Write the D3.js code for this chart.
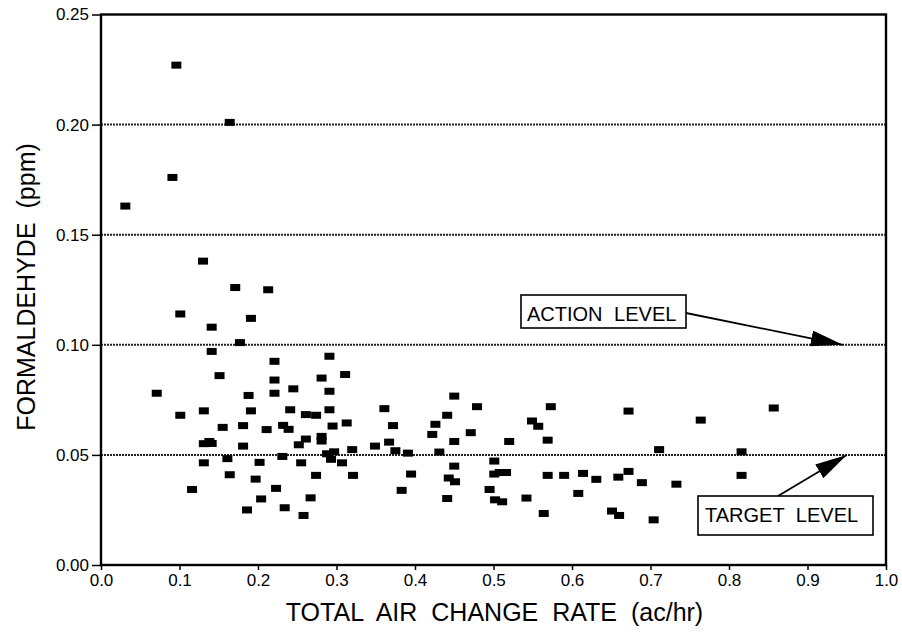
<!DOCTYPE html>
<html>
<head>
<meta charset="utf-8">
<script src="https://cdn.jsdelivr.net/npm/d3@7"></script>
<style>
  html, body { margin: 0; padding: 0; background: #fff; }
  svg { display: block; font-family: "Liberation Sans", Arial, Helvetica, sans-serif; }
</style>
</head>
<body>
<svg id="chart" width="902" height="635"></svg>
<script>
// ---- data ----
const airChange = [
  0.031, 0.091, 0.096, 0.164, 0.130, 0.171, 0.213, 0.101, 0.191, 0.141,
  0.177, 0.141, 0.221, 0.151, 0.221, 0.071, 0.221, 0.245, 0.188, 0.131,
  0.191, 0.241, 0.101, 0.155, 0.181, 0.211, 0.232, 0.239, 0.131, 0.138,
  0.141, 0.181, 0.252, 0.231, 0.161, 0.131, 0.202, 0.255, 0.164, 0.197,
  0.116, 0.223, 0.204, 0.186, 0.234, 0.258, 0.261, 0.274, 0.261, 0.267,
  0.274, 0.281, 0.281, 0.281, 0.291, 0.291, 0.291, 0.295, 0.288, 0.297,
  0.293, 0.311, 0.313, 0.320, 0.307, 0.321, 0.349, 0.361, 0.367, 0.372,
  0.375, 0.391, 0.395, 0.383, 0.422, 0.426, 0.431, 0.441, 0.443, 0.441,
  0.450, 0.450, 0.450, 0.451, 0.471, 0.479, 0.495, 0.501, 0.501, 0.508,
  0.516, 0.502, 0.511, 0.520, 0.542, 0.549, 0.557, 0.573, 0.569, 0.569,
  0.564, 0.590, 0.614, 0.608, 0.631, 0.672, 0.659, 0.672, 0.689, 0.651,
  0.660, 0.704, 0.711, 0.733, 0.764, 0.816, 0.816, 0.857
];
const formaldehyde = [
  0.163, 0.176, 0.227, 0.201, 0.138, 0.126, 0.125, 0.114, 0.112, 0.108,
  0.101, 0.097, 0.0925, 0.086, 0.084, 0.078, 0.078, 0.080, 0.077, 0.070,
  0.070, 0.0705, 0.068, 0.0625, 0.0633, 0.0615, 0.0634, 0.0616, 0.0551, 0.0561,
  0.0552, 0.054, 0.0546, 0.0493, 0.0483, 0.0464, 0.0466, 0.0464, 0.041, 0.039,
  0.0343, 0.0348, 0.030, 0.025, 0.026, 0.0225, 0.0683, 0.068, 0.0572, 0.0305,
  0.0407, 0.0849, 0.0584, 0.0563, 0.0948, 0.0789, 0.0705, 0.0631, 0.0505, 0.0514,
  0.048, 0.0865, 0.0645, 0.0524, 0.0464, 0.0407, 0.054, 0.071, 0.0558, 0.0633,
  0.0519, 0.0508, 0.0413, 0.0339, 0.0593, 0.0639, 0.0513, 0.068, 0.0395, 0.0302,
  0.0767, 0.0561, 0.0449, 0.0378, 0.0601, 0.0719, 0.0343, 0.0472, 0.0413, 0.042,
  0.042, 0.0296, 0.0287, 0.0561, 0.0304, 0.0654, 0.063, 0.0719, 0.0567, 0.0407,
  0.0234, 0.0407, 0.0416, 0.0325, 0.0389, 0.0699, 0.0399, 0.0425, 0.0374, 0.0245,
  0.0225, 0.0205, 0.0524, 0.0367, 0.0658, 0.0514, 0.0407, 0.0713
];
const xTicks = [0.0, 0.1, 0.2, 0.3, 0.4, 0.5, 0.6, 0.7, 0.8, 0.9, 1.0];
const xTickLabels = ["0.0", "0.1", "0.2", "0.3", "0.4", "0.5", "0.6", "0.7", "0.8", "0.9", "1.0"];
const yTicks = [0.00, 0.05, 0.10, 0.15, 0.20, 0.25];
const yTickLabels = ["0.00", "0.05", "0.10", "0.15", "0.20", "0.25"];
const gridLevels = [0.05, 0.10, 0.15, 0.20];
const xTitle = "TOTAL AIR CHANGE RATE (ac/hr)";
const yTitle = "FORMALDEHYDE (ppm)";
// annotation labels and the level each arrow points to
const annoText = ["ACTION LEVEL", "TARGET LEVEL"];
const annoLevel = [0.10, 0.05];
const annoTipX = [0.945, 0.950];

// ---- layout ----
const svg = d3.select("#chart");
const pLeft = 101, pRight = 886, pTop = 14.5, pBottom = 565;
const x = d3.scaleLinear().domain([0, 1]).range([pLeft, pRight]);
const y = d3.scaleLinear().domain([0, 0.25]).range([pBottom, pTop]);

// grid lines (dotted)
svg.append("g").selectAll("line").data(gridLevels).join("line")
  .attr("x1", pLeft).attr("x2", pRight)
  .attr("y1", d => y(d)).attr("y2", d => y(d))
  .attr("stroke", "#222").attr("stroke-width", 2)
  .attr("stroke-dasharray", "2,1");

// axes
const yAxis = d3.axisLeft(y).tickValues(yTicks)
  .tickFormat((d, i) => yTickLabels[i]).tickSize(9).tickPadding(3);
const gy = svg.append("g").attr("transform", `translate(${pLeft},0)`).call(yAxis);
gy.select(".domain").remove();
gy.selectAll(".tick line").attr("stroke", "#000").attr("stroke-width", 1.5);
gy.selectAll(".tick text").attr("font-size", 17).attr("fill", "#000")
  .attr("font-family", "'Liberation Sans', Arial, sans-serif");

const xAxis = d3.axisBottom(x).tickValues(xTicks)
  .tickFormat((d, i) => xTickLabels[i]).tickSize(5).tickPadding(4);
const gx = svg.append("g").attr("transform", `translate(0,${pBottom})`).call(xAxis);
gx.select(".domain").remove();
gx.selectAll(".tick line").attr("stroke", "#000").attr("stroke-width", 1.5);
gx.selectAll(".tick text").attr("font-size", 17).attr("fill", "#000")
  .attr("font-family", "'Liberation Sans', Arial, sans-serif");

// frame
svg.append("rect")
  .attr("x", pLeft).attr("y", pTop)
  .attr("width", pRight - pLeft).attr("height", pBottom - pTop)
  .attr("fill", "none").attr("stroke", "#000").attr("stroke-width", 2.4);

// points
const pts = airChange.map((v, i) => ({ ac: v, f: formaldehyde[i] }));
const mw = 10, mh = 7;
svg.append("g").selectAll("rect").data(pts).join("rect")
  .attr("x", d => x(d.ac) - mw / 2)
  .attr("y", d => y(d.f) - mh / 2)
  .attr("width", mw).attr("height", mh)
  .attr("fill", "#000");

// axis titles
svg.append("text")
  .attr("x", (pLeft + pRight) / 2 + 1).attr("y", 621)
  .attr("text-anchor", "middle").attr("font-size", 25)
  .attr("word-spacing", 7).attr("fill", "#000")
  .text(xTitle);
svg.append("text")
  .attr("transform", `translate(35,${287}) rotate(-90)`)
  .attr("text-anchor", "middle").attr("font-size", 25)
  .attr("word-spacing", 7).attr("fill", "#000")
  .text(yTitle);

// annotations
svg.append("defs").append("marker")
  .attr("id", "arrowHead").attr("viewBox", "0 0 20 10")
  .attr("refX", 20).attr("refY", 5)
  .attr("markerWidth", 32).attr("markerHeight", 16)
  .attr("markerUnits", "userSpaceOnUse")
  .attr("orient", "auto")
  .append("path").attr("d", "M0,0 L20,5 L0,10 Z").attr("fill", "#000");

const boxes = [
  { bx: 521, by: 295, bw: 165, bh: 33, tx: 527, ty: 321, sx: 686, sy: 313 },
  { bx: 698, by: 496, bw: 175, bh: 39, tx: 705, ty: 522, sx: 778, sy: 496 }
];
boxes.forEach((b, i) => {
  const g = svg.append("g");
  g.append("rect").attr("x", b.bx).attr("y", b.by)
    .attr("width", b.bw).attr("height", b.bh)
    .attr("fill", "#fff").attr("stroke", "#000").attr("stroke-width", 1.6);
  g.append("text").attr("x", b.tx).attr("y", b.ty)
    .attr("font-size", 20).attr("word-spacing", 6).attr("fill", "#000")
    .text(annoText[i]);
  g.append("line")
    .attr("x1", b.sx).attr("y1", b.sy)
    .attr("x2", x(annoTipX[i])).attr("y2", y(annoLevel[i]))
    .attr("stroke", "#000").attr("stroke-width", 1.8)
    .attr("marker-end", "url(#arrowHead)");
});
</script>
</body>
</html>
